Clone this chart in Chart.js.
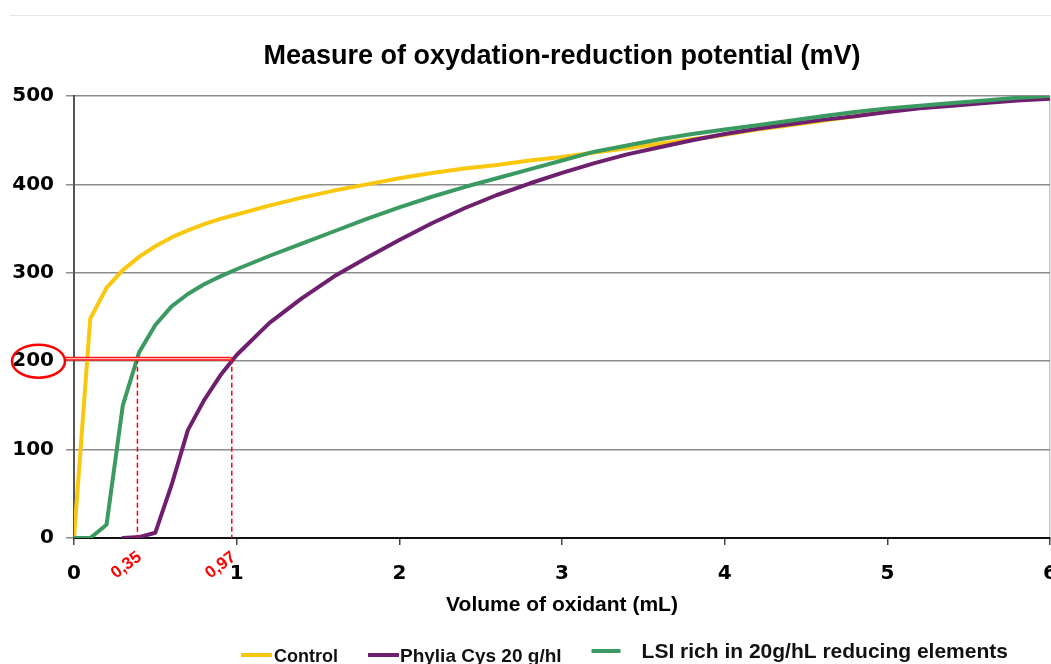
<!DOCTYPE html>
<html><head><meta charset="utf-8">
<script src="https://cdn.jsdelivr.net/npm/chart.js@4/dist/chart.umd.min.js"></script>
<style>
html,body{margin:0;padding:0;background:#fff;overflow:hidden;width:1051px;height:664px;}
#wrap{position:relative;width:1051px;height:664px;overflow:hidden;background:#fff;}
#topline{position:absolute;left:10px;right:0;top:15px;height:1px;background:#e6e6e6;}
canvas{position:absolute;left:0;top:0;}
</style></head><body>
<div id="wrap"><div id="topline"></div><canvas id="c" width="1080" height="672"></canvas></div>
<script>
// ---- data ----
const volume  = [0,0.1,0.2,0.3,0.4,0.5,0.6,0.7,0.8,0.9,1.0,1.2,1.4,1.6,1.8,2.0,2.2,2.4,2.6,2.8,3.0,3.2,3.4,3.6,3.8,4.0,4.2,4.4,4.6,4.8,5.0,5.2,5.4,5.6,5.8,6.0];
const control = [0,248,283,303,318,330,340,348,355,361,366,376,385,393,400,407,413,418,422,427,431,436,441,446,451,456,462,467,472,477,483,487,490,493,496,499];
const phylia  = [null,null,null,0,1,6,60,122,156,184,207,243,271,296,317,337,356,373,388,401,413,424,434,442,450,457,463,468,473,477,482,486,489,492,495,497];
const lsi     = [0,0,15,150,210,241,262,276,287,296,304,319,333,347,361,374,386,397,407,417,427,437,444,451,457,462,467,472,477,482,486,489,492,495,498,500];
const seriesNames  = ['Control','Phylia Cys 20 g/hl','LSI rich in 20g/hL reducing elements'];
const seriesColors = ['#F9C80E','#6E1F6E','#3B9A62'];
const yTickStep = 100, yMin = 0, yMax = 500;
const xTickStep = 1,   xMin = 0, xMax = 6;
const refLevel  = 200;
const refPoints = [0.39, 0.97];
const refLabels = ['0,35', '0,97'];

const SANS = '"Liberation Sans", Arial, sans-serif';
const DEJA = '"DejaVu Sans", sans-serif';

const annotate = {
  id: 'annotate',
  afterDatasetsDraw(chart) {
    const {ctx, chartArea: a, scales: {x, y}} = chart;
    const yLevel = y.getPixelForValue(refLevel);
    const yy = yLevel - 2.5;
    ctx.save();
    ctx.strokeStyle = '#ff0000';
    ctx.lineWidth = 1.5;
    ctx.setLineDash([5, 3]);
    refPoints.forEach(v => {
      const px = x.getPixelForValue(v);
      ctx.beginPath(); ctx.moveTo(px, yy); ctx.lineTo(px, a.bottom); ctx.stroke();
    });
    ctx.setLineDash([]);
    const xEnd = x.getPixelForValue(refPoints[refPoints.length - 1]);
    ctx.lineWidth = 4; ctx.strokeStyle = '#ff1a1a';
    ctx.beginPath(); ctx.moveTo(a.left - 9, yy); ctx.lineTo(xEnd, yy); ctx.stroke();
    ctx.lineWidth = 1.2; ctx.strokeStyle = '#ffb3b3';
    ctx.beginPath(); ctx.moveTo(a.left - 8, yy); ctx.lineTo(xEnd - 1, yy); ctx.stroke();
    ctx.lineWidth = 2.5; ctx.strokeStyle = '#ff0000';
    ctx.beginPath(); ctx.ellipse(a.left - 35.5, yLevel, 26.5, 16.5, 0, 0, Math.PI * 2); ctx.stroke();
    ctx.fillStyle = '#ff0000';
    ctx.font = 'bold 17px ' + SANS;
    ctx.textAlign = 'right'; ctx.textBaseline = 'alphabetic';
    refPoints.forEach((v, i) => {
      ctx.save();
      ctx.translate(x.getPixelForValue(v) + 5, a.bottom + 21);
      ctx.rotate(-37 * Math.PI / 180);
      ctx.fillText(refLabels[i], 0, 0);
      ctx.restore();
    });
    ctx.restore();
  }
};

const legendStyle = [
  {size: 18, base: 662, lineY: 655, lineLen: 31, gap: 2},
  {size: 19, base: 662, lineY: 655, lineLen: 31, gap: 1},
  {size: 21, base: 658, lineY: 651, lineLen: 29, gap: 21}
];
const customLegend = {
  id: 'customLegend',
  afterDraw(chart) {
    const {ctx, chartArea: a} = chart;
    let cx = a.left + 167;
    ctx.save();
    ctx.textAlign = 'left'; ctx.textBaseline = 'alphabetic';
    seriesNames.forEach((name, i) => {
      const st = legendStyle[i];
      ctx.strokeStyle = seriesColors[i]; ctx.lineWidth = 4;
      ctx.beginPath(); ctx.moveTo(cx, st.lineY); ctx.lineTo(cx + st.lineLen, st.lineY); ctx.stroke();
      cx += st.lineLen + st.gap;
      ctx.font = 'bold ' + st.size + 'px ' + SANS;
      ctx.fillStyle = '#111';
      ctx.fillText(name, cx, st.base);
      cx += ctx.measureText(name).width + 30;
    });
    ctx.restore();
  }
};

const mk = arr => volume.map((v, i) => ({x: v, y: arr[i]}));

new Chart(document.getElementById('c'), {
  type: 'line',
  data: {
    datasets: [
      {label: seriesNames[0], data: mk(control), borderColor: seriesColors[0], backgroundColor: seriesColors[0], order: 2},
      {label: seriesNames[1], data: mk(phylia),  borderColor: seriesColors[1], backgroundColor: seriesColors[1], order: 1},
      {label: seriesNames[2], data: mk(lsi),     borderColor: seriesColors[2], backgroundColor: seriesColors[2], order: 0}
    ]
  },
  options: {
    responsive: false,
    animation: false,
    elements: {
      line: {borderWidth: 4, tension: 0, borderJoinStyle: 'round', borderCapStyle: 'round', fill: false},
      point: {radius: 0, hoverRadius: 0}
    },
    layout: {padding: {left: 0, right: 30, top: 0, bottom: 54}},
    plugins: {
      legend: {display: false},
      tooltip: {enabled: false},
      title: {
        display: true,
        fullSize: false,
        text: 'Measure of oxydation-reduction potential (mV)',
        color: '#000',
        font: {family: SANS, size: 27, weight: 'bold', lineHeight: 1.2},
        padding: {top: 40, bottom: 23.6}
      }
    },
    scales: {
      x: {
        type: 'linear', min: xMin, max: xMax,
        ticks: {stepSize: xTickStep, color: '#000', font: {family: DEJA, size: 20, weight: 'bold'}, padding: 17, maxRotation: 0, autoSkip: false},
        grid: {
          color: c => (c.tick && c.tick.value === xMax) ? '#c8c8c8' : 'rgba(0,0,0,0)',
          tickColor: '#444', tickLength: 7, lineWidth: 1.5, drawTicks: true
        },
        border: {display: true, color: '#111', width: 2},
        title: {display: true, text: 'Volume of oxidant (mL)', color: '#000',
                font: {family: SANS, size: 21, weight: 'bold', lineHeight: 1.2}, padding: {top: 0, bottom: 0}},
        afterFit(s) { s.height = 80; }
      },
      y: {
        min: yMin, max: yMax,
        ticks: {stepSize: yTickStep, color: '#000', font: {family: DEJA, size: 20, weight: 'bold'}, padding: 12},
        grid: {color: '#8c8c8c', lineWidth: 1.5, tickLength: 8, tickColor: '#8c8c8c'},
        border: {display: true, color: '#555', width: 2},
        afterFit(s) { s.width = 74; }
      }
    }
  },
  plugins: [annotate, customLegend]
});
</script>
</body></html>
